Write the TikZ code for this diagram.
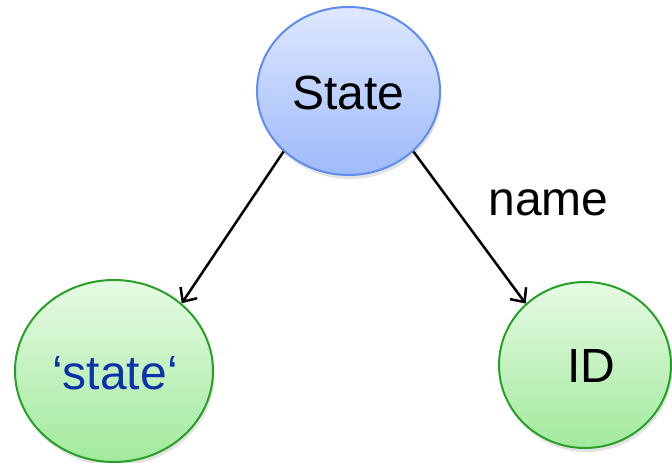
\documentclass[tikz,border=0pt]{standalone}
\usepackage{fontspec}
\setmainfont{Liberation Sans}
\usetikzlibrary{shapes.geometric,arrows.meta,shadows}
\definecolor{bluetop}{RGB}{222,232,255}
\definecolor{bluebot}{RGB}{158,186,250}
\definecolor{blueline}{RGB}{95,140,238}
\definecolor{greentop}{RGB}{230,250,228}
\definecolor{greenbot}{RGB}{162,234,156}
\definecolor{greenline}{RGB}{40,160,40}
\definecolor{quotetext}{RGB}{10,50,170}
\tikzset{
  bubble/.style={ellipse, draw, line width=2bp, inner sep=0pt,
    drop shadow={opacity=0.22, shadow xshift=1.5bp, shadow yshift=-4bp}},
  bluebubble/.style={bubble, draw=blueline, top color=bluetop, bottom color=bluebot},
  greenbubble/.style={bubble, draw=greenline, top color=greentop, bottom color=greenbot},
  txt/.style={font=\fontsize{48bp}{52bp}\selectfont, inner sep=0pt, anchor=base},
  conn/.style={line width=2.5bp, -{Straight Barb[length=11bp,width=20bp,line width=2.5bp]}}
}
\begin{document}
\begin{tikzpicture}[x=1bp,y=-1bp]
\useasboundingbox (0,0) rectangle (672,463);
\node[bluebubble, minimum width=183bp, minimum height=168bp] (s) at (348.5,91) {};
\node[greenbubble, minimum width=198bp, minimum height=182bp] (l) at (114,371) {};
\node[greenbubble, minimum width=172bp, minimum height=166bp] (r) at (585,365) {};
\node[txt] (st) at (348.5,110) {State};
\node[txt, text=quotetext] (lt) at (115,389) {‘state‘};
\node[txt] (rt) at (591,382) {ID};
\node[txt] (nm) at (548.5,216) {name};
\draw[conn] (s.223) -- (l.45);
\draw[conn] (s.317) -- (r.134);
\end{tikzpicture}
\end{document}
